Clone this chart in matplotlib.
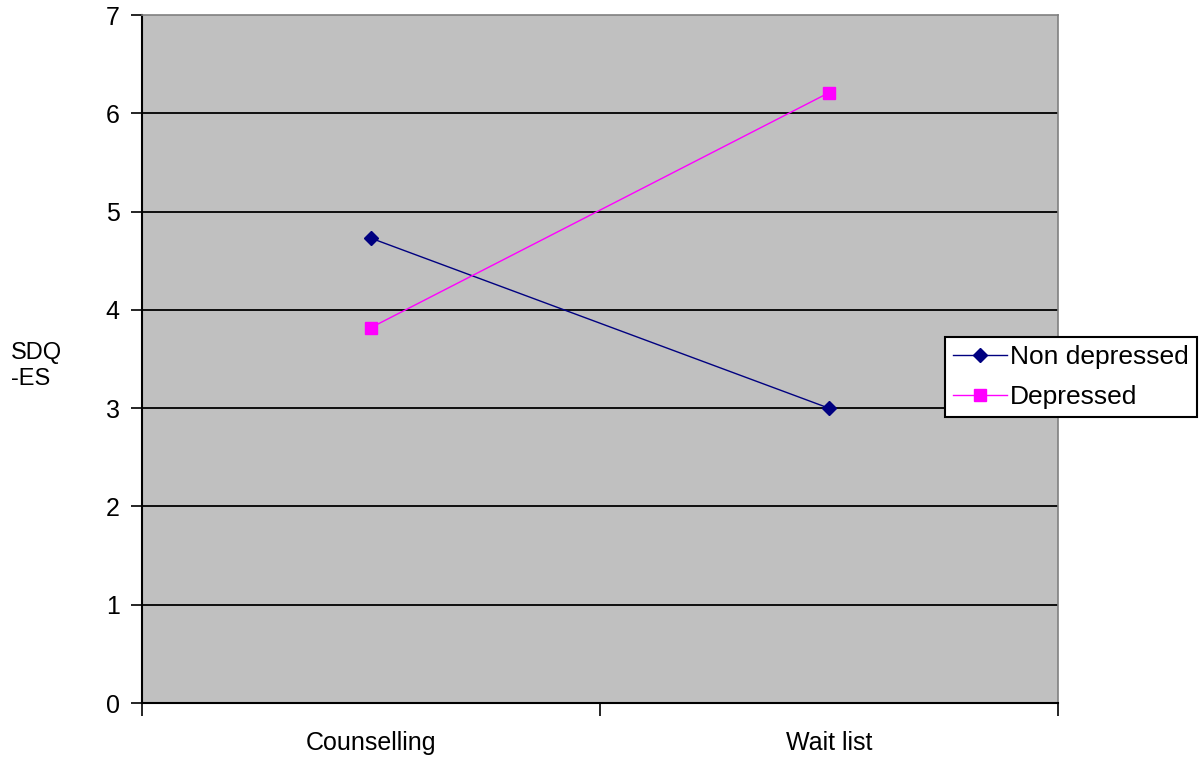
import matplotlib
matplotlib.use("Agg")
import matplotlib.pyplot as plt

categories = ["Counselling", "Wait list"]
non_depressed = [4.73, 3.0]
depressed = [3.82, 6.21]
y_ticks = [0, 1, 2, 3, 4, 5, 6, 7]

plt.rcParams['font.family'] = ['Liberation Sans', 'DejaVu Sans']

fig = plt.figure(figsize=(12, 7.65), dpi=100)
ax = fig.add_axes([0.1183, 0.081, 0.7633, 0.8993])
ax.set_facecolor('#c0c0c0')

x = [0.5, 1.5]
ax.plot(x, non_depressed, color='#000080', marker='D', markersize=7, lw=1,
        label='Non depressed', zorder=3)
ax.plot(x, depressed, color='#ff00ff', marker='s', markersize=9, lw=1,
        label='Depressed', zorder=3)

ax.set_xlim(0, 2)
ax.set_ylim(0, 7)
ax.set_yticks(y_ticks)
ax.set_yticklabels([str(t) for t in y_ticks], fontsize=18)
for t in y_ticks[1:-1]:
    ax.axhline(t, color='black', lw=1.3, zorder=1)

ax.set_xticks([0, 1, 2])
ax.set_xticklabels([])
ax.set_xticks(x, minor=True)
ax.set_xticklabels(categories, minor=True, fontsize=18)
ax.tick_params(axis='x', which='minor', length=0, pad=20)
ax.tick_params(axis='x', which='major', length=9, width=1.2, direction='out')
ax.tick_params(axis='y', length=8, width=1.2, direction='out', pad=8)

for side in ['left', 'bottom']:
    ax.spines[side].set_color('black')
    ax.spines[side].set_linewidth(1.5)
for side in ['top', 'right']:
    ax.spines[side].set_color('#808080')
    ax.spines[side].set_linewidth(1.2)

fig.text(0.009, 0.522, "SDQ\n-ES", fontsize=17, ha='left', va='center',
         linespacing=1.25)

leg = fig.legend(loc='upper left', bbox_to_anchor=(945 / 1200, 1 - 337 / 765),
                 fontsize=19, frameon=True, fancybox=False, framealpha=1,
                 edgecolor='black', handlelength=2.05, handletextpad=0.12,
                 borderpad=0.3, labelspacing=0.6, borderaxespad=0)
leg.get_frame().set_linewidth(1.5)

fig.savefig("out.png", dpi=100)
